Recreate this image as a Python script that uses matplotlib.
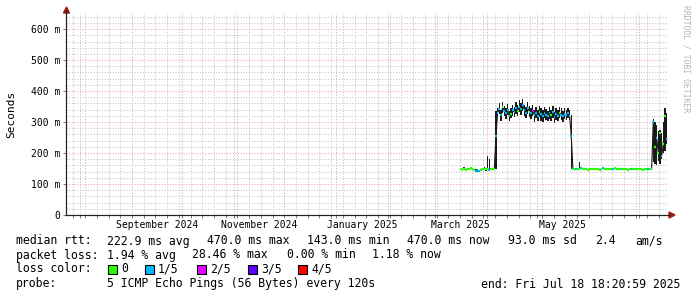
import datetime as dt
import matplotlib
matplotlib.use("Agg")
import matplotlib.pyplot as plt
import matplotlib.dates as mdates
from matplotlib.collections import LineCollection
from matplotlib.patches import Rectangle, Polygon

# one value per day, starting 2025-03-16 (ms)
first_day = dt.datetime(2025, 3, 16, 12)

median_ms = [
    # Mar 16 - Apr 5
    148, 146, 150, 145, 149, 147, 151, 148, 146, 143, 144, 142, 145, 148, 150, 147, 149, 146, 148, 150, 147,
    # Apr 6
    255,
    # Apr 7 - May 20
    330, 342, 322, 348, 335, 328, 340, 318, 326, 338,
    332, 345, 336, 350, 342, 355, 338, 330, 344, 334,
    328, 336, 322, 330, 318, 334, 326, 320, 330, 324,
    318, 328, 322, 332, 316, 326, 320, 330, 324, 318,
    326, 322, 328, 320,
    # May 21
    255,
    # May 22 - Jul 8
    147, 148, 149, 147, 150, 152, 148, 149, 147, 146,
    148, 147, 149, 150, 148, 147, 146, 148, 152, 149,
    148, 150, 149, 147, 148, 151, 150, 149, 148, 147,
    149, 148, 147, 146, 148, 147, 149, 148, 147, 148,
    147, 148, 146, 147, 148, 149, 148, 147,
    # Jul 9 - Jul 17
    300, 220, 250, 200, 265, 190, 230, 318, 245,
]

low_ms = [
    145, 143, 146, 141, 146, 144, 147, 144, 142, 139, 140, 139, 141, 144, 146, 143, 146, 143, 145, 147, 144,
    150,
    318, 325, 305, 330, 320, 310, 322, 302, 312, 320,
    315, 326, 318, 332, 322, 335, 318, 312, 325, 316,
    310, 318, 300, 312, 302, 316, 305, 300, 312, 306,
    302, 310, 304, 314, 298, 308, 302, 312, 306, 300,
    310, 306, 312, 308,
    148,
    144, 145, 146, 144, 147, 149, 145, 146, 144, 143,
    145, 144, 146, 147, 145, 144, 143, 145, 148, 146,
    145, 147, 146, 144, 145, 148, 147, 146, 145, 144,
    146, 145, 144, 143, 145, 144, 146, 145, 144, 145,
    144, 145, 143, 144, 145, 146, 145, 144,
    170, 165, 160, 175, 165, 180, 200, 205, 230,
]

high_ms = [
    151, 149, 154, 148, 152, 150, 155, 151, 149, 147, 148, 146, 149, 151, 154, 150, 190, 182, 151, 153, 150,
    335,
    345, 362, 338, 365, 352, 345, 358, 336, 344, 356,
    350, 366, 355, 372, 362, 376, 356, 350, 365, 352,
    346, 354, 340, 350, 338, 352, 346, 340, 350, 342,
    336, 348, 340, 352, 334, 345, 340, 350, 344, 336,
    344, 340, 346, 338,
    322,
    150, 151, 152, 150, 172, 155, 151, 152, 150, 149,
    151, 150, 152, 153, 151, 150, 149, 151, 156, 152,
    151, 153, 152, 150, 151, 154, 153, 152, 151, 150,
    152, 151, 150, 149, 151, 150, 152, 151, 150, 151,
    150, 151, 149, 150, 151, 152, 151, 150,
    310, 300, 290, 270, 275, 265, 300, 345, 330,
]

# packet loss per day, in fifths
loss_level = [
    0, 0, 0, 0, 0, 0, 0, 0, 0, 1, 1, 1, 0, 0, 0, 0, 0, 1, 0, 0, 0,
    1,
    1, 1, 1, 0, 1, 1, 1, 1, 0, 1,
    1, 1, 0, 1, 1, 1, 1, 1, 1, 0,
    1, 2, 1, 1, 1, 0, 1, 1, 1, 1,
    1, 1, 0, 1, 1, 1, 1, 0, 1, 1,
    1, 1, 1, 1,
    1,
    0, 0, 1, 0, 0, 1, 0, 0, 0, 0,
    0, 0, 0, 0, 0, 0, 0, 0, 1, 0,
    0, 0, 0, 0, 1, 0, 0, 0, 0, 1,
    0, 0, 0, 0, 0, 1, 0, 0, 0, 0,
    0, 0, 0, 0, 0, 1, 0, 0,
    1, 0, 1, 0, 0, 1, 0, 0, 1,
]

loss_colors = ["#26ff00", "#00b8ff", "#dd00ff", "#5e00ff", "#ff0000"]
loss_labels = ["0", "1/5", "2/5", "3/5", "4/5"]

y_ticks = [0, 100, 200, 300, 400, 500, 600]
month_labels = ["September 2024", "November 2024", "January 2025", "March 2025", "May 2025"]
month_label_starts = [dt.datetime(2024, 9, 1), dt.datetime(2024, 11, 1), dt.datetime(2025, 1, 1),
                      dt.datetime(2025, 3, 1), dt.datetime(2025, 5, 1)]

mono = "DejaVu Sans Mono"
W, H = 697, 297

fig = plt.figure(figsize=(W / 100, H / 100), dpi=100)
ax = fig.add_axes([66 / W, 82 / H, 602 / W, 202 / H])

days = [first_day + dt.timedelta(days=i) for i in range(len(median_ms))]
xnum = mdates.date2num(days)

# smoke
heights = [h - l for h, l in zip(high_ms, low_ms)]
ax.bar(xnum, heights, bottom=low_ms, width=0.85, color="#1a1a1a", linewidth=0, zorder=2)

# thin dark path joining the medians (shows the steps)
ax.plot(xnum, median_ms, color="#1a1a1a", lw=0.8, zorder=2.5)

# median coloured by loss, one short piece per day
segs = []
cols = []
for i in range(len(median_ms)):
    segs.append([(xnum[i] - 0.5, median_ms[i]), (xnum[i] + 0.5, median_ms[i])])
    cols.append(loss_colors[loss_level[i]])
ax.add_collection(LineCollection(segs, colors=cols, linewidths=1.6, zorder=3))

ref = dt.datetime(2025, 5, 1)
ax.set_xlim(mdates.date2num(ref - dt.timedelta(days=281.4)), mdates.date2num(ref + dt.timedelta(days=78.3)))
ax.set_ylim(0, 652)

ax.xaxis.set_major_locator(mdates.MonthLocator())
ax.xaxis.set_minor_locator(mdates.WeekdayLocator(byweekday=mdates.SU))
ax.xaxis.set_major_formatter(plt.NullFormatter())
ax.set_yticks(y_ticks)
ax.set_yticks(range(0, 652, 20), minor=True)
ax.set_yticklabels(["0" if v == 0 else "%d m" % v for v in y_ticks], family=mono, fontsize=7)

ax.set_axisbelow(True)
ax.grid(which="minor", color="#c8c8c8", ls=(0, (1.2, 1.6)), lw=0.7)
ax.grid(which="major", color="#eeaaaa", ls=(0, (1.2, 1.6)), lw=0.7)
ax.tick_params(which="both", length=2, width=0.7, color="#777777", pad=1.8)
ax.tick_params(axis="y", which="minor", length=0)

for s in ["top", "right"]:
    ax.spines[s].set_visible(False)
for s in ["left", "bottom"]:
    ax.spines[s].set_linewidth(0.8)
    ax.spines[s].set_color("#222222")

for lab, start in zip(month_labels, month_label_starts):
    nxt = (start.replace(day=28) + dt.timedelta(days=4)).replace(day=1)
    mid = start + (nxt - start) / 2
    ax.text(mdates.date2num(mid), -10 / 202, lab, transform=ax.get_xaxis_transform(),
            ha="center", va="center", family=mono, fontsize=7)

# axis arrows
arrow_col = "#9c1c1c"
fig.add_artist(Polygon([(66.5 / W, 1 - 7 / H), (63.5 / W, 1 - 13 / H), (69.5 / W, 1 - 13 / H)],
                       closed=True, color=arrow_col, transform=fig.transFigure))
fig.add_artist(Polygon([(675 / W, 1 - 215 / H), (669 / W, 1 - 212 / H), (669 / W, 1 - 218 / H)],
                       closed=True, color=arrow_col, transform=fig.transFigure))
fig.add_artist(plt.Line2D([66 / W, 670 / W], [1 - 215 / H, 1 - 215 / H], color="#222222", lw=0.8))
fig.add_artist(plt.Line2D([66 / W, 66 / W], [1 - 215 / H, 1 - 10 / H], color="#222222", lw=0.8))

fig.text(11 / W, 1 - 114 / H, "Seconds", rotation=90, ha="center", va="center", family=mono, fontsize=8)
fig.text(686 / W, 1 - 59 / H, "RRDTOOL / TOBI OETIKER", rotation=270, ha="center", va="center",
         family=mono, fontsize=5.8, color="#b4b4b4")


def put(x, y, s, ha="left"):
    fig.text(x / W, 1 - y / H, s, ha=ha, va="center", family=mono, fontsize=8.3)


put(16, 241, "median rtt:")
for x, s in zip([107, 207, 307, 407, 508, 595, 635],
                ["222.9 ms avg", "470.0 ms max", "143.0 ms min", "470.0 ms now", "93.0 ms sd", "2.4", "am/s"]):
    put(x, 241, s)

put(16, 255, "packet loss:")
for x, s in zip([107, 192, 287, 372], ["1.94 % avg", "28.46 % max", "0.00 % min", "1.18 % now"]):
    put(x, 255, s)

put(16, 269, "loss color:")
for bx, col, lab in zip([108, 145, 197, 248, 298], loss_colors, loss_labels):
    fig.add_artist(Rectangle((bx / W, 1 - 274 / H), 9 / W, 9 / H, facecolor=col, edgecolor="black",
                             lw=0.8, transform=fig.transFigure))
    put(bx + 13, 269, lab)

put(16, 284, "probe:")
put(107, 284, "5 ICMP Echo Pings (56 Bytes) every 120s")
put(680, 284, "end: Fri Jul 18 18:20:59 2025", ha="right")

fig.savefig("out.png", dpi=100, facecolor="white")
